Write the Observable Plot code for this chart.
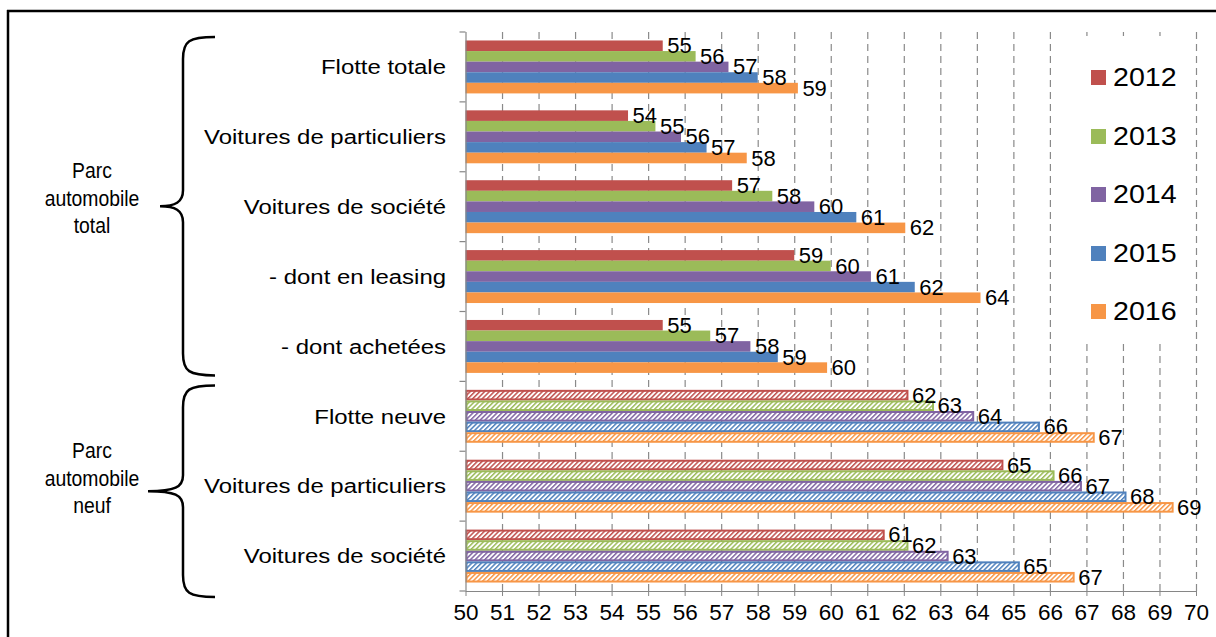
<!DOCTYPE html>
<html><head><meta charset="utf-8">
<script src="https://cdn.jsdelivr.net/npm/d3@7"></script>
<script src="https://cdn.jsdelivr.net/npm/@observablehq/plot@0.6"></script>
<style>
html,body{margin:0;padding:0;background:#fff;overflow:hidden;}
body{font-family:"Liberation Sans",Arial,sans-serif;}
#wrap{position:relative;width:1216px;height:637px;overflow:hidden;}
#legend{position:absolute;left:1079px;top:36px;width:114px;height:304px;background:#fff;}
.item{position:absolute;left:12px;height:30px;display:flex;align-items:center;}
.sw{width:15px;height:15px;margin-right:7px;flex:none;}
.lab{font-size:26px;color:#000;line-height:30px;transform:scaleX(1.1);transform-origin:left center;}
</style></head><body>
<div id="wrap"><div id="chart"></div><div id="legend"></div></div>
<script>
// ---- data ----
const categories = ["Flotte totale", "Voitures de particuliers", "Voitures de société", "- dont en leasing", "- dont achetées", "Flotte neuve", "Voitures de particuliers", "Voitures de société"];
const isNewFleet = [false, false, false, false, false, true, true, true];
const groupLabels = [["Parc", "automobile", "total"], ["Parc", "automobile", "neuf"]];
const groupFirst = [0, 5];
const groupLast = [4, 7];
const years = ["2012", "2013", "2014", "2015", "2016"];
const colors = ["#C0504D", "#9BBB59", "#8064A2", "#4F81BD", "#F79646"];
const v2012 = [55.4, 54.45, 57.3, 59.0, 55.4, 62.1, 64.7, 61.45];
const v2013 = [56.3, 55.2, 58.4, 60.0, 56.7, 62.8, 66.1, 62.1];
const v2014 = [57.2, 55.9, 59.55, 61.1, 57.8, 63.9, 66.85, 63.2];
const v2015 = [58.0, 56.6, 60.7, 62.3, 58.55, 65.7, 68.07, 65.15];
const v2016 = [59.1, 57.7, 62.04, 64.1, 59.9, 67.2, 69.36, 66.65];
const xTicks = d3.range(50, 71);

const series = [v2012, v2013, v2014, v2015, v2016];
const nCat = categories.length, nYear = years.length;
const outer = 0.8; // empty space above/below each group, in bar heights
const slots = nYear + 2 * outer;
const rows = [];
categories.forEach((c, i) => years.forEach((y, j) => rows.push({
  cat: i, year: y, yi: j, value: series[j][i], hatched: isNewFleet[i],
  y1: i + (outer + j) / slots, y2: i + (outer + j + 1) / slots, ym: i + (outer + j + 0.5) / slots
})));

const chart = Plot.plot({
  width: 1216, height: 637,
  marginTop: 32, marginBottom: 46, marginLeft: 465.5, marginRight: 20,
  style: {fontFamily: "'Liberation Sans', Arial, sans-serif", fontSize: "22.5px", color: "#000", background: "#fff"},
  x: {domain: [50, 70], ticks: xTicks, tickFormat: d => String(d), tickSize: 5, tickPadding: 8, label: null},
  y: {domain: [0, nCat], reverse: true, axis: null},
  color: {type: "identity"},
  marks: [
    Plot.ruleX(xTicks.slice(1), {stroke: "#8a8a8a", strokeDasharray: "7,5", strokeWidth: 1.2}),
    Plot.rect(rows.filter(d => !d.hatched), {x1: d => 50, x2: "value", y1: "y1", y2: "y2", fill: d => colors[d.yi]}),
    Plot.rect(rows.filter(d => d.hatched), {x1: d => 50, x2: "value", y1: "y1", y2: "y2", fill: d => `url(#hatch-${d.year})`, stroke: d => colors[d.yi], strokeWidth: 2, insetTop: 1, insetBottom: 1, insetLeft: 1}),
    Plot.ruleX([50], {stroke: "#868686", strokeWidth: 1.2}),
    Plot.ruleY([nCat], {stroke: "#868686", strokeWidth: 1.2}),
    Plot.text(rows, {x: "value", y: "ym", text: d => String(Math.round(d.value)), textAnchor: "start", dx: 4, fontSize: 22}),
    Plot.text(d3.range(nCat), {y: i => i + 0.5, frameAnchor: "left", textAnchor: "end", dx: -20, text: i => categories[i], fontSize: 21})
  ]
});
document.getElementById("chart").appendChild(chart);

const svgNode = chart.tagName.toLowerCase() === "svg" ? chart : chart.querySelector("svg");
const svg = d3.select(svgNode);

// hatch patterns
const defs = svg.insert("defs", ":first-child");
years.forEach((y, i) => {
  const p = defs.append("pattern").attr("id", `hatch-${y}`).attr("patternUnits", "userSpaceOnUse")
    .attr("width", 3.4).attr("height", 3.4).attr("patternTransform", "rotate(45)");
  p.append("rect").attr("width", 3.4).attr("height", 3.4).attr("fill", "#fff");
  p.append("rect").attr("width", 1.5).attr("height", 3.4).attr("fill", colors[i]);
});

function stretch(sel, sx) {
  sel.each(function () {
    const xs = parseFloat(this.getAttribute("x"));
    const x = isFinite(xs) ? xs : 0;
    const prev = this.getAttribute("transform") || "";
    this.setAttribute("transform", `${prev} translate(${x},0) scale(${sx},1) translate(${-x},0)`);
  });
}

// axis styling
svg.selectAll('[aria-label^="x-axis tick"]').filter(function(){return !/label/.test(this.getAttribute("aria-label"));}).attr("stroke", "#868686");
stretch(svg.selectAll("text").filter(function () { return categories.includes(this.textContent); }), 1.14);

const xS = chart.scale("x"), yS = chart.scale("y");
const x0 = xS.apply(50);

const ann = svg.append("g");
// boundary ticks on left axis
for (let i = 0; i <= nCat; i++) {
  const yy = yS.apply(i);
  ann.append("line").attr("x1", x0 - 6).attr("x2", x0).attr("y1", yy).attr("y2", yy).attr("stroke", "#868686").attr("stroke-width", 1.2);
}

// braces + group labels
const tips = [160, 148];
const ends = [[5, -6], [4, 6]];
const labelShift = [-8, -13];
groupLabels.forEach((lines, g) => {
  const y0 = yS.apply(groupFirst[g]) + ends[g][0];
  const y1 = yS.apply(groupLast[g] + 1) + ends[g][1];
  const ym = (y0 + y1) / 2;
  const bx = 183, hx = 215, tx = tips[g];
  const path = `M${hx},${y0} C${bx + 6},${y0} ${bx},${y0 + 4} ${bx},${y0 + 22} L${bx},${ym - 16} C${bx},${ym - 4} ${bx - 8},${ym} ${tx},${ym} C${bx - 8},${ym} ${bx},${ym + 4} ${bx},${ym + 16} L${bx},${y1 - 22} C${bx},${y1 - 4} ${bx + 6},${y1} ${hx},${y1}`;
  ann.append("path").attr("d", path).attr("fill", "none").attr("stroke", "#000").attr("stroke-width", 2.5);
  const t = ann.append("text").attr("text-anchor", "middle").attr("font-size", 21.5).attr("fill", "#000")
    .attr("transform", `translate(92,${ym + labelShift[g]}) scale(0.9,1)`);
  lines.forEach((l, k) => t.append("tspan").attr("x", 0).attr("y", (k - 1) * 27.5).attr("dy", "0.35em").text(l));
});

// outer frame (top & left)
ann.append("line").attr("x1", 7).attr("x2", 1216).attr("y1", 11).attr("y2", 11).attr("stroke", "#000").attr("stroke-width", 2.5);
ann.append("line").attr("x1", 8).attr("x2", 8).attr("y1", 10).attr("y2", 637).attr("stroke", "#000").attr("stroke-width", 2.5);

// legend
const leg = d3.select("#legend");
const itemCenters = [41, 100, 158, 217, 275];
years.forEach((y, i) => {
  const it = leg.append("div").attr("class", "item").style("top", (itemCenters[i] - 15) + "px");
  it.append("div").attr("class", "sw").style("background", colors[i]);
  it.append("div").attr("class", "lab").text(y);
});
</script>
</body></html>
